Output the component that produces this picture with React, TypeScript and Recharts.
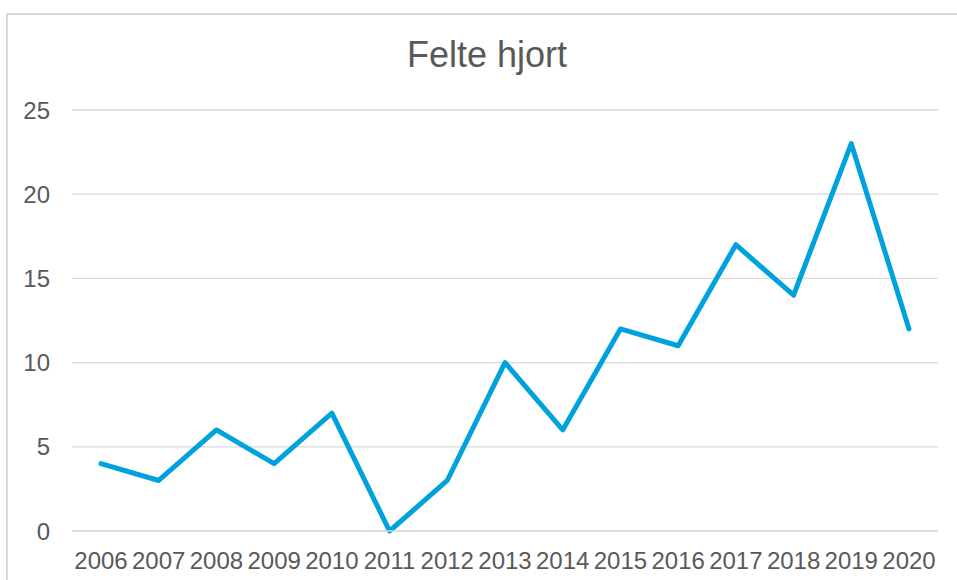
import React from 'react';
import { LineChart, Line, XAxis, YAxis, CartesianGrid } from 'recharts';

const years = ['2006','2007','2008','2009','2010','2011','2012','2013','2014','2015','2016','2017','2018','2019','2020'];
const felte = [4, 3, 6, 4, 7, 0, 3, 10, 6, 12, 11, 17, 14, 23, 12];
const yTicks = [0, 5, 10, 15, 20, 25];

const data = years.map((y, i) => ({ year: y, value: felte[i] }));

const font = '"Liberation Sans", Arial, sans-serif';

export default function App() {
  return (
    <div style={{ position: 'absolute', left: 0, top: 0, width: 957, height: 580, overflow: 'hidden', background: '#fff' }}>
      <div style={{ position: 'absolute', left: 6, top: 13, width: 1000, height: 700, border: '2px solid #d9d9d9', boxSizing: 'border-box' }} />
      <div style={{ position: 'absolute', left: 0, top: 0 }}>
        <LineChart width={957} height={580} data={data} margin={{ top: 110, right: 19, bottom: 0, left: 0 }}>
          <text x={487} y={67} textAnchor="middle" fill="#595959" style={{ fontFamily: font, fontSize: 36 }}>Felte hjort</text>
          <CartesianGrid vertical={false} stroke="#d9d9d9" strokeWidth={1.3} />
          <XAxis
            dataKey="year"
            padding={{ left: 29, right: 29 }}
            axisLine={{ stroke: '#d9d9d9', strokeWidth: 1.3 }}
            tickLine={false}
            tickSize={0}
            tickMargin={21}
            height={49}
            interval={0}
            tick={{ fill: '#595959', fontSize: 24, fontFamily: font }}
          />
          <YAxis
            domain={[0, 25]}
            ticks={yTicks}
            axisLine={false}
            tickLine={false}
            tickSize={0}
            tickMargin={22}
            width={72}
            tick={{ fill: '#595959', fontSize: 24, fontFamily: font }}
          />
          <Line
            type="linear"
            dataKey="value"
            stroke="#00a2de"
            strokeWidth={5}
            dot={false}
            activeDot={false}
            strokeLinejoin="round"
            strokeLinecap="round"
            isAnimationActive={false}
          />
        </LineChart>
      </div>
    </div>
  );
}
